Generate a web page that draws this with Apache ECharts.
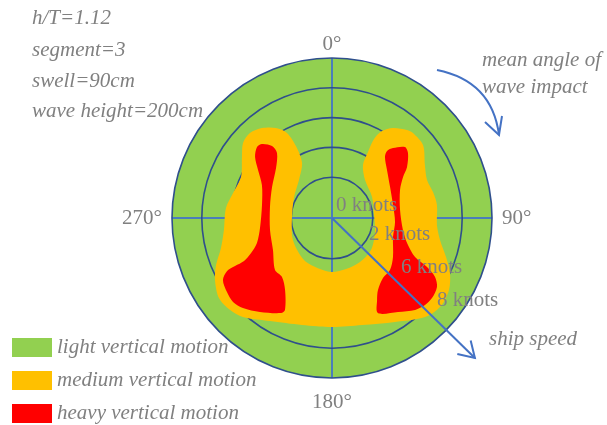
<!DOCTYPE html>
<html>
<head>
<meta charset="utf-8">
<script src="https://cdn.jsdelivr.net/npm/echarts@6/dist/echarts.min.js"></script>
<style>
  html, body { margin: 0; padding: 0; background: #ffffff; }
  #chart { width: 607px; height: 425px; }
</style>
</head>
<body>
<div id="chart"></div>
<script>
// Motion classes shown in the legend
const motionLevels = ['light vertical motion', 'medium vertical motion', 'heavy vertical motion'];

// Angle of wave impact (degrees, clockwise from bow) and ship speed rings (knots)
const angleTicks = [0, 90, 180, 270];
const speedRings = [0, 2, 4, 6, 8, 10];
const speedLabels = ['0 knots', '2 knots', '6 knots', '8 knots'];

// Case description
const caseInfo = ['h/T=1.12', 'segment=3', 'swell=90cm', 'wave height=200cm'];

// Zone outlines as [angle (deg), speed (knots)]
const mediumZone = [
  [34.1, 6.56], [40.4, 7.02], [43.6, 7.14], [51.3, 7.09], [60.3, 6.44], [68.2, 6.13],
  [75.6, 6.26], [82.9, 6.36], [93.8, 6.32], [101.5, 6.66], [108.9, 7.35], [115.0, 8.00],
  [121.6, 8.48], [128.9, 8.66], [136.8, 8.38], [148.8, 7.42], [164.3, 6.72], [180, 6.58],
  [195.7, 6.72], [211.0, 7.33], [222.0, 8.20], [227.9, 8.48], [234.7, 8.56], [242.1, 8.15],
  [247.9, 7.66], [254.9, 6.98], [263.7, 6.56], [275.4, 6.41], [284.2, 6.11], [294.3, 5.96],
  [304.1, 6.56], [310.1, 7.07], [316.0, 7.19], [322.1, 6.91], [328.1, 6.38], [332.1, 5.72],
  [333.4, 4.52], [331.4, 3.46], [319.0, 2.64], [298.9, 2.17], [270, 1.95], [240.6, 2.27],
  [213.7, 2.65], [193.2, 2.78], [180, 2.89], [164.6, 2.81], [147.5, 2.76], [129.4, 2.65],
  [108.0, 2.30], [85.9, 2.09], [62.3, 2.30], [41.0, 2.64], [30.3, 3.38], [28.6, 4.31],
  [28.0, 5.27], [29.9, 5.99]
];
const heavyZonePort = [
  [313.4, 6.19], [316.6, 6.10], [320.2, 5.55], [319.8, 4.98], [311.8, 4.30], [297.3, 3.79],
  [280.1, 3.49], [259.0, 3.50], [241.5, 3.77], [227.6, 4.44], [220.3, 4.45], [213.1, 5.03],
  [207.1, 6.19], [208.2, 6.50], [217.5, 7.21], [224.7, 7.76], [229.7, 7.97], [234.8, 7.89],
  [240.4, 7.68], [243.2, 7.15], [243.7, 6.52], [244.0, 5.83], [246.6, 5.18], [251.6, 4.57],
  [262.1, 4.14], [280.5, 4.04], [295.2, 4.46], [303.0, 5.18], [308.4, 5.85]
];
const heavyZoneStarboard = [
  [41.0, 4.68], [39.4, 5.08], [41.1, 5.49], [45.8, 6.09], [49.5, 5.97], [55.8, 5.35],
  [60.0, 4.77], [67.6, 4.20], [83.3, 3.86], [99.6, 4.09], [108.4, 4.57], [115.2, 5.42],
  [117.3, 6.44], [119.8, 7.23], [123.3, 7.69], [128.7, 7.86], [133.1, 7.81], [137.9, 7.58],
  [144.9, 6.97], [154.2, 6.35], [151.2, 5.54], [147.4, 4.99], [139.6, 4.54], [131.9, 4.49],
  [122.6, 4.12], [107.3, 3.55], [93.6, 3.50], [78.0, 3.45], [61.9, 3.68], [48.9, 4.16]
];

// Styling
const GREEN = '#92d050';
const ORANGE = '#ffc000';
const RED = '#ff0000';
const CROSS_BLUE = '#4a7ebb';
const RING_BLUE = '#2f4f8c';
const ARROW_BLUE = '#4472c4';
const TEXT_GREY = '#808080';
const SERIF = '"Liberation Serif", "Times New Roman", serif';
const SPEED_ARROW_ANGLE = 134.4;

const chart = echarts.init(document.getElementById('chart'), null, { renderer: 'canvas' });

function zoneSeries(name, color, vertices, z) {
  return {
    type: 'custom',
    name: name,
    coordinateSystem: 'polar',
    z: z,
    silent: true,
    itemStyle: { color: color },
    encode: { radius: 0, angle: 1 },
    data: vertices.map(([a, s]) => [s, a]),
    renderItem(params, api) {
      if (params.dataIndex !== 0) return null;
      const pts = vertices.map(([a, s]) => api.coord([s, a]));
      return {
        type: 'polygon',
        shape: { points: pts, smooth: 0.3 },
        style: { fill: color }
      };
    }
  };
}

const textStyle = (italic) => ({
  fill: TEXT_GREY,
  fontFamily: SERIF,
  fontSize: 21,
  fontStyle: italic ? 'italic' : 'normal',
  verticalAlign: 'middle'
});

const infoLineY = [18, 50, 81, 111];
const knotLabelPos = [[336, 205], [369, 234], [401, 267], [437, 300]];

const angleLabelFont = { color: TEXT_GREY, fontFamily: SERIF, fontSize: 21 };

const option = {
  animation: false,
  backgroundColor: '#ffffff',
  polar: { center: [332, 218], radius: [11, 160] },
  angleAxis: {
    type: 'value',
    min: 0,
    max: 360,
    interval: 90,
    startAngle: 90,
    clockwise: true,
    axisLine: { show: false },
    axisTick: { show: false },
    splitLine: { show: false },
    axisLabel: {
      margin: 10,
      color: TEXT_GREY,
      fontFamily: SERIF,
      fontSize: 21,
      formatter: (v) => {
        if (angleTicks.indexOf(v) < 0) return '';
        if (v === 0) return '{top|' + v + '°}';
        if (v === 180) return '{bottom|' + v + '°}';
        return v + '°';
      },
      rich: {
        top: Object.assign({ lineHeight: 8 }, angleLabelFont),
        bottom: Object.assign({ lineHeight: 28 }, angleLabelFont)
      }
    }
  },
  radiusAxis: {
    type: 'value',
    min: speedRings[0],
    max: speedRings[speedRings.length - 1],
    interval: speedRings[1] - speedRings[0],
    axisLine: { show: false },
    axisTick: { show: false },
    axisLabel: { show: false },
    splitLine: {
      show: true,
      lineStyle: {
        color: ['rgba(0,0,0,0)', RING_BLUE, RING_BLUE, RING_BLUE, RING_BLUE, RING_BLUE],
        width: 1.6
      }
    }
  },
  legend: {
    data: motionLevels,
    orient: 'vertical',
    left: 12,
    top: 337,
    padding: 0,
    itemWidth: 40,
    itemHeight: 19,
    itemGap: 12,
    icon: 'rect',
    selectedMode: false,
    textStyle: {
      color: TEXT_GREY,
      fontFamily: SERIF,
      fontSize: 21,
      fontStyle: 'italic',
      padding: [0, 0, 0, 0]
    }
  },
  series: [
    {
      type: 'custom',
      name: motionLevels[0],
      coordinateSystem: 'polar',
      z: -1,
      silent: true,
      itemStyle: { color: GREEN },
      data: [[0, 0]],
      renderItem(params) {
        const { cx, cy, r } = params.coordSys;
        return {
          type: 'group',
          children: [
            { type: 'circle', shape: { cx, cy, r }, style: { fill: GREEN } },
            { type: 'line', shape: { x1: cx - r, y1: cy, x2: cx + r, y2: cy }, style: { stroke: CROSS_BLUE, lineWidth: 2 } },
            { type: 'line', shape: { x1: cx, y1: cy - r, x2: cx, y2: cy + r }, style: { stroke: CROSS_BLUE, lineWidth: 2 } }
          ]
        };
      }
    },
    zoneSeries(motionLevels[1], ORANGE, mediumZone, 2),
    zoneSeries(motionLevels[2], RED, heavyZonePort, 3),
    zoneSeries(motionLevels[2], RED, heavyZoneStarboard, 3),
    {
      // ship speed direction arrow
      type: 'custom',
      coordinateSystem: 'polar',
      z: 5,
      silent: true,
      data: [[0, 0]],
      renderItem(params) {
        const { cx, cy, r } = params.coordSys;
        const dir = SPEED_ARROW_ANGLE * Math.PI / 180;
        const len = r * 1.25;
        const tx = cx + Math.sin(dir) * len;
        const ty = cy - Math.cos(dir) * len;
        const back = Math.atan2(cy - ty, cx - tx);
        const h = 18, spread = 32 * Math.PI / 180;
        return {
          type: 'group',
          children: [
            { type: 'line', shape: { x1: cx, y1: cy, x2: tx, y2: ty }, style: { stroke: ARROW_BLUE, lineWidth: 2 } },
            {
              type: 'polyline',
              shape: {
                points: [
                  [tx + h * Math.cos(back + spread), ty + h * Math.sin(back + spread)],
                  [tx, ty],
                  [tx + h * Math.cos(back - spread), ty + h * Math.sin(back - spread)]
                ]
              },
              style: { stroke: ARROW_BLUE, lineWidth: 2, fill: null }
            }
          ]
        };
      }
    }
  ],
  graphic: [
    ...caseInfo.map((t, i) => ({
      type: 'text', x: 32, y: infoLineY[i], z: 10,
      style: Object.assign({ text: t }, textStyle(true))
    })),
    ...speedLabels.map((t, i) => ({
      type: 'text', x: knotLabelPos[i][0], y: knotLabelPos[i][1], z: 10,
      style: Object.assign({ text: t }, textStyle(false))
    })),
    { type: 'text', x: 482, y: 60, z: 10, style: Object.assign({ text: 'mean angle of' }, textStyle(true)) },
    { type: 'text', x: 482, y: 87, z: 10, style: Object.assign({ text: 'wave impact' }, textStyle(true)) },
    { type: 'text', x: 489, y: 339, z: 10, style: Object.assign({ text: 'ship speed' }, textStyle(true)) },
    {
      // rotation of the impact angle
      type: 'bezierCurve', z: 10,
      shape: { x1: 437, y1: 70, cpx1: 492, cpy1: 81, x2: 499, y2: 135 },
      style: { stroke: ARROW_BLUE, lineWidth: 2, fill: null }
    },
    {
      type: 'polyline', z: 10,
      shape: { points: [[485, 122], [499, 135], [502, 116]] },
      style: { stroke: ARROW_BLUE, lineWidth: 2, fill: null }
    }
  ]
};

chart.setOption(option);
</script>
</body>
</html>
